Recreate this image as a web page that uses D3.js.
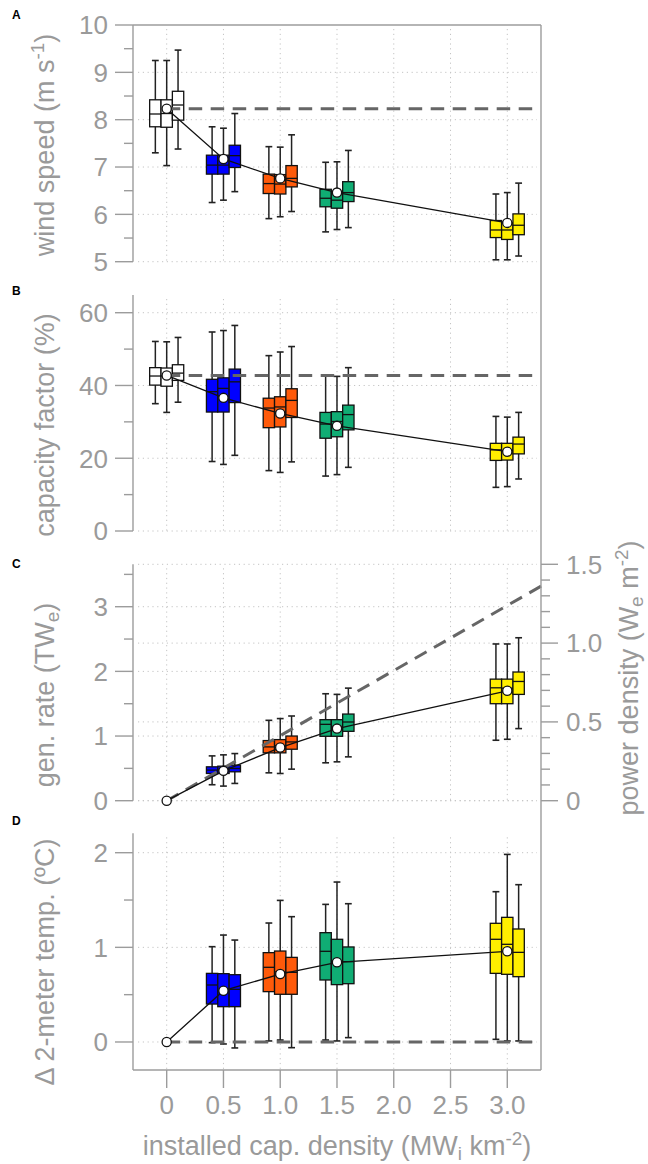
<!DOCTYPE html>
<html>
<head>
<meta charset="utf-8">
<script src="https://cdn.jsdelivr.net/npm/d3@7"></script>
<style>
  html, body { margin: 0; padding: 0; background: #fff; }
  svg { display: block; }
  text { font-family: "Liberation Sans", Arial, Helvetica, sans-serif; }
</style>
</head>
<body>
<svg id="chart" width="648" height="1164"></svg>
<script>
// ---------------- DATA ----------------
const groups = [0, 0.5, 1.0, 1.5, 3.0];
const groupColors = ["#ffffff", "#0000ff", "#ff5a0a", "#10ad74", "#ffee00"];
const boxOffsets = [-0.1, 0, 0.1];
const xTicks = [0, 0.5, 1.0, 1.5, 2.0, 2.5, 3.0];
const xTickLabels = ["0", "0.5", "1.0", "1.5", "2.0", "2.5", "3.0"];

// stats per box: [lower whisker, q1, median, q3, upper whisker]
const windStats = [
  [[7.30, 7.85, 8.12, 8.42, 9.25], [7.03, 7.84, 8.13, 8.42, 9.25], [7.38, 7.99, 8.31, 8.60, 9.47]],
  [[6.25, 6.85, 7.04, 7.25, 7.85], [6.30, 6.85, 7.04, 7.25, 7.82], [6.48, 6.99, 7.24, 7.46, 8.13]],
  [[5.91, 6.44, 6.65, 6.85, 7.43], [5.95, 6.43, 6.64, 6.84, 7.42], [6.06, 6.58, 6.76, 7.03, 7.68]],
  [[5.63, 6.16, 6.34, 6.53, 7.10], [5.68, 6.13, 6.30, 6.48, 7.11], [5.72, 6.27, 6.46, 6.69, 7.35]],
  [[5.04, 5.51, 5.67, 5.87, 6.43], [5.04, 5.47, 5.67, 5.82, 6.46], [5.12, 5.57, 5.77, 6.01, 6.66]]
];
const windMeans = [8.23, 7.17, 6.76, 6.46, 5.82];
const windRefX = [0, 3.22];
const windRefY = [8.23, 8.23];
const windTicks = [5, 6, 7, 8, 9, 10];
const windMinor = [5.5, 6.5, 7.5, 8.5, 9.5];

const capStats = [
  [[35.0, 40.1, 42.6, 44.9, 52.1], [32.6, 39.8, 42.6, 44.8, 52.0], [35.4, 41.4, 43.4, 45.7, 53.2]],
  [[19.1, 32.7, 38.3, 41.7, 54.7], [18.3, 32.7, 39.2, 42.1, 55.1], [20.8, 35.3, 41.0, 44.5, 56.5]],
  [[16.6, 28.4, 33.8, 36.5, 48.2], [16.1, 28.6, 34.1, 36.9, 49.2], [19.0, 31.2, 35.9, 39.1, 50.7]],
  [[15.1, 25.5, 29.4, 32.6, 42.75], [15.5, 25.9, 30.1, 32.8, 42.5], [17.5, 27.8, 32.0, 34.6, 44.9]],
  [[12.0, 19.4, 22.3, 24.1, 31.5], [12.2, 19.5, 22.1, 24.1, 31.3], [14.3, 21.2, 23.9, 25.8, 32.6]]
];
const capMeans = [42.75, 36.6, 32.3, 28.9, 21.8];
const capRefX = [0, 3.22];
const capRefY = [42.75, 42.75];
const capTicks = [0, 20, 40, 60];
const capMinor = [10, 30, 50];

const genStats = [
  [],
  [[0.247, 0.421, 0.473, 0.524, 0.693], [0.226, 0.421, 0.473, 0.534, 0.709], [0.267, 0.447, 0.498, 0.550, 0.729]],
  [[0.431, 0.740, 0.832, 0.930, 1.243], [0.421, 0.740, 0.853, 0.945, 1.270], [0.488, 0.796, 0.909, 1.000, 1.310]],
  [[0.586, 0.996, 1.181, 1.253, 1.654], [0.601, 0.996, 1.150, 1.253, 1.644], [0.678, 1.073, 1.217, 1.340, 1.741]],
  [[0.935, 1.500, 1.746, 1.880, 2.424], [0.950, 1.500, 1.740, 1.880, 2.424], [1.115, 1.644, 1.844, 1.990, 2.520]]
];
const genMeans = [0, 0.462, 0.822, 1.115, 1.70];
const genRefX = [0, 3.3];
const genRefY = [0, 3.32];
const genTicks = [0, 1, 2, 3];
const genMinor = [0.5, 1.5, 2.5, 3.5];
const powerTicks = [0, 0.5, 1.0, 1.5];
const powerTickLabels = ["0", "0.5", "1.0", "1.5"];
const powerMinor = [0.1, 0.2, 0.3, 0.4, 0.6, 0.7, 0.8, 0.9, 1.1, 1.2, 1.3, 1.4];

const tempStats = [
  [],
  [[-0.007, 0.401, 0.602, 0.725, 1.007], [-0.021, 0.373, 0.540, 0.722, 1.130], [-0.063, 0.373, 0.556, 0.711, 1.077]],
  [[0.011, 0.532, 0.789, 0.944, 1.257], [0.021, 0.504, 0.740, 0.961, 1.496], [-0.060, 0.504, 0.736, 0.894, 1.324]],
  [[0.021, 0.655, 0.958, 1.155, 1.454], [0.011, 0.606, 0.840, 1.085, 1.690], [0.046, 0.616, 0.849, 1.004, 1.461]],
  [[0.028, 0.725, 1.085, 1.254, 1.588], [0.011, 0.715, 1.032, 1.317, 1.982], [0.011, 0.690, 0.947, 1.194, 1.662]]
];
const tempMeans = [0, 0.542, 0.718, 0.842, 0.958];
const tempRefX = [0, 3.22];
const tempRefY = [0, 0];
const tempTicks = [0, 1, 2];
const tempMinor = [0.5, 1.5];

// ---------------- LAYOUT ----------------
const svg = d3.select("#chart");
const L = 133, R = 541;
const AX = "#9c9c9c";
const TXT = "#9a9a9a";
const x = d3.scaleLinear().domain([-0.2968, 3.297]).range([L, R]);
const boxW = x(0.1) - x(0);
const capW = x(0.06) - x(0);

const panels = [
  { letter: "A", letterY: 19, top: 25, bottom: 261.7, domain: [5, 10], stats: windStats, means: windMeans,
    refX: windRefX, refY: windRefY, ticks: windTicks, minor: windMinor, labels: windTicks.map(String), titleY: 145,
    title: [["wind speed (m s", 0], ["-1", 1], [")", 0]] },
  { letter: "B", letterY: 295, top: 295, bottom: 531, domain: [0, 64.87], stats: capStats, means: capMeans,
    refX: capRefX, refY: capRefY, ticks: capTicks, minor: capMinor, labels: capTicks.map(String), titleY: 425,
    title: [["capacity factor (%)", 0]] },
  { letter: "C", letterY: 568, top: 564.3, bottom: 800.7, domain: [0, 3.656], stats: genStats, means: genMeans,
    refX: genRefX, refY: genRefY, ticks: genTicks, minor: genMinor, labels: genTicks.map(String), titleY: 695,
    title: [["gen. rate (TW", 0], ["e", -1], [")", 0]], right: true },
  { letter: "D", letterY: 825, top: 833.3, bottom: 1070, domain: [-0.296, 2.205], stats: tempStats, means: tempMeans,
    refX: tempRefX, refY: tempRefY, ticks: tempTicks, minor: tempMinor, labels: tempTicks.map(String), titleY: 962,
    title: [["\u0394 2-meter temp. (\u00baC)", 0]] }
];

function addRich(sel, parts, size) {
  parts.forEach(([t, s]) => {
    const ts = sel.append("tspan").text(t);
    if (s === 1) ts.attr("font-size", size * 0.7).attr("baseline-shift", "55%");
    if (s === -1) ts.attr("font-size", size * 0.7).attr("baseline-shift", "-25%");
  });
}

const gridG = svg.append("g");
const markG = svg.append("g");

panels.forEach(p => {
  const y = d3.scaleLinear().domain(p.domain).range([p.bottom, p.top]);
  const g = markG.append("g");

  // grid
  const gridYs = p.ticks.slice();
  xTicks.forEach(v => {
    gridG.append("line").attr("x1", x(v)).attr("x2", x(v)).attr("y1", p.top + 4).attr("y2", p.bottom)
      .attr("stroke", "#c4c4c4").attr("stroke-width", 1).attr("stroke-dasharray", "1.2,3.6");
  });
  gridYs.forEach(v => {
    if (Math.abs(y(v) - 25) < 1) return;
    gridG.append("line").attr("x1", L + 5).attr("x2", R - 4).attr("y1", y(v)).attr("y2", y(v))
      .attr("stroke", "#c4c4c4").attr("stroke-width", 1).attr("stroke-dasharray", "1.2,3.6");
  });

  let yr = null;
  if (p.right) {
    yr = d3.scaleLinear().domain([0, 1.5]).range([p.bottom, p.top]);
    powerTicks.forEach(v => {
      gridG.append("line").attr("x1", L + 5).attr("x2", R - 4).attr("y1", yr(v)).attr("y2", yr(v))
        .attr("stroke", "#c4c4c4").attr("stroke-width", 1).attr("stroke-dasharray", "1.2,3.6");
    });
  }

  // left axis
  g.append("line").attr("x1", L).attr("x2", L).attr("y1", p.top).attr("y2", p.bottom)
    .attr("stroke", AX).attr("stroke-width", 1.4);
  p.ticks.forEach((v, i) => {
    g.append("line").attr("x1", L - 18).attr("x2", L).attr("y1", y(v)).attr("y2", y(v))
      .attr("stroke", AX).attr("stroke-width", 1.4);
    g.append("text").attr("x", L - 25).attr("y", y(v)).attr("dy", "0.36em").attr("text-anchor", "end")
      .attr("font-size", 26).attr("fill", TXT).text(p.labels[i]);
  });
  p.minor.forEach(v => {
    g.append("line").attr("x1", L - 9).attr("x2", L).attr("y1", y(v)).attr("y2", y(v))
      .attr("stroke", AX).attr("stroke-width", 1.4);
  });
  const tt = g.append("text").attr("transform", `translate(54,${p.titleY}) rotate(-90)`)
    .attr("text-anchor", "middle").attr("font-size", 27).attr("fill", TXT);
  addRich(tt, p.title, 27);

  // panel letter
  svg.append("text").attr("x", 12).attr("y", p.letterY).attr("font-size", 12).attr("font-weight", "bold")
    .attr("fill", "#000").text(p.letter);

  // right axis for C
  if (p.right) {
    powerTicks.forEach((v, i) => {
      g.append("line").attr("x1", R).attr("x2", R + 17).attr("y1", yr(v)).attr("y2", yr(v))
        .attr("stroke", AX).attr("stroke-width", 1.4);
      g.append("text").attr("x", R + 25).attr("y", yr(v)).attr("dy", "0.36em").attr("text-anchor", "start")
        .attr("font-size", 26).attr("fill", TXT).text(powerTickLabels[i]);
    });
    powerMinor.forEach(v => {
      g.append("line").attr("x1", R).attr("x2", R + 9).attr("y1", yr(v)).attr("y2", yr(v))
        .attr("stroke", AX).attr("stroke-width", 1.4);
    });
    const rt = g.append("text").attr("transform", `translate(638,678) rotate(-90)`)
      .attr("text-anchor", "middle").attr("font-size", 27).attr("fill", TXT);
    addRich(rt, [["power density (W", 0], ["e", -1], [" m", 0], ["-2", 1], [")", 0]], 27);
  }

  // boxes
  p.stats.forEach((grp, gi) => {
    grp.forEach((s, bi) => {
      const cx = x(groups[gi] + boxOffsets[bi]);
      const [lo, q1, md, q3, hi] = s;
      g.append("line").attr("x1", cx).attr("x2", cx).attr("y1", y(lo)).attr("y2", y(hi))
        .attr("stroke", "#222").attr("stroke-width", 1.5);
      [lo, hi].forEach(v => g.append("line").attr("x1", cx - capW / 2).attr("x2", cx + capW / 2)
        .attr("y1", y(v)).attr("y2", y(v)).attr("stroke", "#222").attr("stroke-width", 1.6));
      g.append("rect").attr("x", cx - boxW / 2).attr("y", y(q3)).attr("width", boxW).attr("height", y(q1) - y(q3))
        .attr("fill", groupColors[gi]).attr("stroke", "#111").attr("stroke-width", 1.3);
      g.append("line").attr("x1", cx - boxW / 2).attr("x2", cx + boxW / 2).attr("y1", y(md)).attr("y2", y(md))
        .attr("stroke", "#111").attr("stroke-width", 1.3);
    });
  });

  // dashed reference
  g.append("path").datum(p.refX.map((v, i) => [v, p.refY[i]]))
    .attr("d", d3.line().x(d => x(d[0])).y(d => y(d[1])))
    .attr("fill", "none").attr("stroke", "#666").attr("stroke-width", 3).attr("stroke-dasharray", "13.5,8.5");

  // mean line + points
  const pts = groups.map((gv, i) => [gv, p.means[i]]);
  g.append("path").datum(pts).attr("d", d3.line().x(d => x(d[0])).y(d => y(d[1])))
    .attr("fill", "none").attr("stroke", "#111").attr("stroke-width", 1.3);
  g.selectAll(null).data(pts).enter().append("circle")
    .attr("cx", d => x(d[0])).attr("cy", d => y(d[1])).attr("r", 4.6)
    .attr("fill", "#fff").attr("stroke", "#111").attr("stroke-width", 1.3);
});

// frame: top, right, bottom
svg.append("line").attr("x1", L).attr("x2", R).attr("y1", 25).attr("y2", 25).attr("stroke", AX).attr("stroke-width", 1.4);
svg.append("line").attr("x1", R).attr("x2", R).attr("y1", 25).attr("y2", 1070).attr("stroke", AX).attr("stroke-width", 1.4);
svg.append("line").attr("x1", L).attr("x2", R).attr("y1", 1070).attr("y2", 1070).attr("stroke", AX).attr("stroke-width", 1.4);

// x axis
xTicks.forEach((v, i) => {
  svg.append("line").attr("x1", x(v)).attr("x2", x(v)).attr("y1", 1070).attr("y2", 1088)
    .attr("stroke", AX).attr("stroke-width", 1.4);
  svg.append("text").attr("x", x(v)).attr("y", 1114).attr("text-anchor", "middle")
    .attr("font-size", 26).attr("fill", TXT).text(xTickLabels[i]);
});
const xt = svg.append("text").attr("x", (L + R) / 2).attr("y", 1155).attr("text-anchor", "middle")
  .attr("font-size", 27).attr("fill", TXT);
addRich(xt, [["installed cap. density (MW", 0], ["i", -1], [" km", 0], ["-2", 1], [")", 0]], 27);
</script>
</body>
</html>
